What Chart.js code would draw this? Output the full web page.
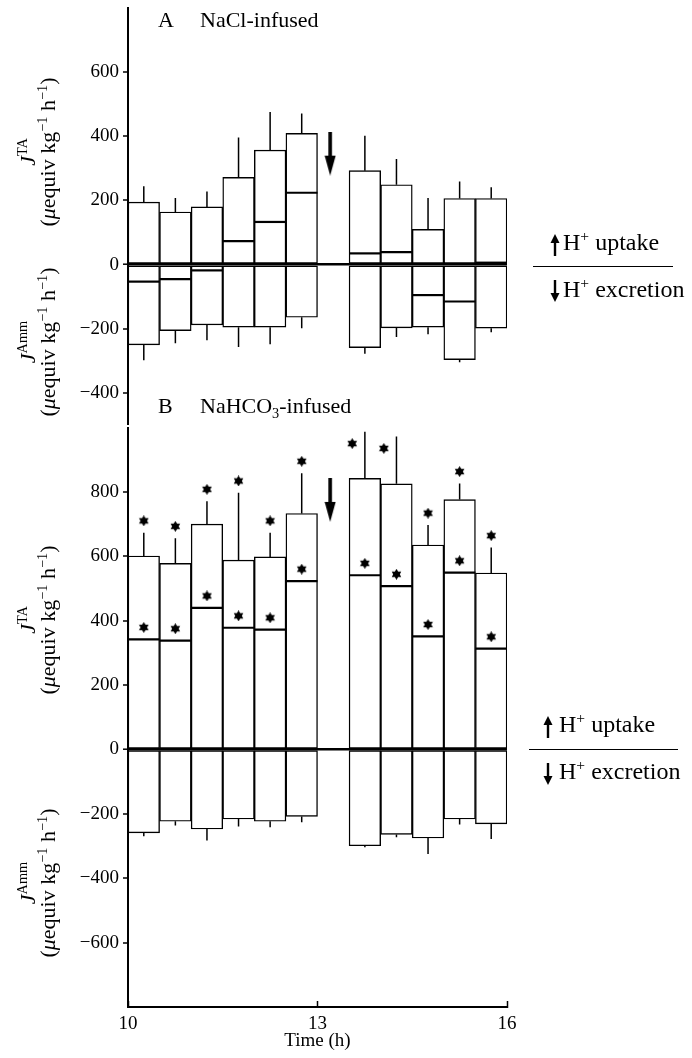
<!DOCTYPE html>
<html>
<head>
<meta charset="utf-8">
<script src="https://cdn.jsdelivr.net/npm/chart.js@4.4.1/dist/chart.umd.min.js"></script>
<style>
  body { margin: 0; background: #fff; }
  #wrap { position: relative; width: 692px; height: 1058px; font-family: "Liberation Serif", "DejaVu Serif", serif; color: #000; }
  canvas { position: absolute; left: 0; }
  .txt { position: absolute; white-space: nowrap; line-height: 22px; font-size: 22px; }
  .key { font-size: 24px; }
  .ytitle { position: absolute; white-space: nowrap; text-align: center; font-size: 22px; line-height: 20px;
            transform: translate(-50%, -50%) rotate(-90deg); }
  .ytitle i { font-style: italic; }
  .ytitle sup, .txt sup { font-size: 0.65em; line-height: 0; }
  .rule { position: absolute; height: 0; border-top: 1.5px solid #000; }
  svg.arr { position: absolute; }
</style>
</head>
<body>
<div id="wrap">
  <canvas id="chartA" width="692" height="432" style="top:0"></canvas>
  <canvas id="chartB" width="692" height="638" style="top:420px"></canvas>

  <div class="txt" style="left:158px; top:9px">A</div>
  <div class="txt" style="left:200px; top:9px">NaCl-infused</div>
  <div class="txt" style="left:158px; top:395px">B</div>
  <div class="txt" style="left:200px; top:395px">NaHCO<sub style="font-size:0.65em">3</sub>-infused</div>

  <div class="ytitle" style="left:38px; top:152px"><i>J</i><sup>TA</sup><br>(<i>μ</i>equiv kg<sup>−1</sup> h<sup>−1</sup>)</div>
  <div class="ytitle" style="left:38px; top:342px"><i>J</i><sup>Amm</sup><br>(<i>μ</i>equiv kg<sup>−1</sup> h<sup>−1</sup>)</div>
  <div class="ytitle" style="left:38px; top:620px"><i>J</i><sup>TA</sup><br>(<i>μ</i>equiv kg<sup>−1</sup> h<sup>−1</sup>)</div>
  <div class="ytitle" style="left:38px; top:883px"><i>J</i><sup>Amm</sup><br>(<i>μ</i>equiv kg<sup>−1</sup> h<sup>−1</sup>)</div>

  <!-- direction key, panel A -->
  <svg class="arr" width="10" height="22" style="left:550px; top:234px"><polygon points="5,0 9.5,9 0.5,9" fill="#000"/><rect x="3.8" y="8" width="2.4" height="14" fill="#000"/></svg>
  <div class="txt key" style="left:563px; top:231px">H<sup>+</sup> uptake</div>
  <div class="rule" style="left:533px; width:140px; top:266px"></div>
  <svg class="arr" width="10" height="22" style="left:550px; top:280px"><rect x="3.8" y="0" width="2.4" height="14" fill="#000"/><polygon points="0.5,13 9.5,13 5,22" fill="#000"/></svg>
  <div class="txt key" style="left:563px; top:278px">H<sup>+</sup> excretion</div>

  <!-- direction key, panel B -->
  <svg class="arr" width="10" height="22" style="left:543px; top:716px"><polygon points="5,0 9.5,9 0.5,9" fill="#000"/><rect x="3.8" y="8" width="2.4" height="14" fill="#000"/></svg>
  <div class="txt key" style="left:559px; top:713px">H<sup>+</sup> uptake</div>
  <div class="rule" style="left:529px; width:149px; top:749px"></div>
  <svg class="arr" width="10" height="22" style="left:543px; top:763px"><rect x="3.8" y="0" width="2.4" height="14" fill="#000"/><polygon points="0.5,13 9.5,13 5,22" fill="#000"/></svg>
  <div class="txt key" style="left:559px; top:760px">H<sup>+</sup> excretion</div>
</div>

<script>
// half-hour collection periods (start of each bin, h)
const binStart = [10, 10.5, 11, 11.5, 12, 12.5, 13.5, 14, 14.5, 15, 15.5];
const binWidth = 0.5;

// A: NaCl-infused  (µequiv kg-1 h-1)
const taA     = [195, 164, 180, 272, 357, 409, 293, 249, 110, 206, 206];
const taErrA  = [49, 44, 48, 124, 119, 62, 109, 80, 98, 53, 35];
const ammA    = [-250, -206, -188, -195, -195, -164, -259, -197, -195, -296, -198];
const ammErrA = [48, 39, 48, 62, 53, 34, 19, 29, 22, 8, 13];
const netA    = [-53, -45, -18, 73, 133, 224, 35, 39, -95, -115, 6];

// B: NaHCO3-infused
const taB     = [601, 578, 700, 588, 598, 733, 842, 825, 635, 776, 548];
const taErrB  = [72, 78, 71, 209, 75, 125, 145, 147, 62, 50, 79];
const ammB    = [-259, -223, -247, -216, -223, -208, -299, -264, -275, -216, -231];
const ammErrB = [11, 13, 36, 23, 19, 18, 5, 9, 50, 17, 47];
const netB    = [342, 338, 440, 378, 372, 523, 541, 507, 351, 549, 313];
// significant vs. NaCl group (J_TA and net flux)
const sigTaB  = [1, 1, 1, 1, 1, 1, 1, 1, 1, 1, 1];
const sigNetB = [1, 1, 1, 1, 1, 1, 1, 1, 1, 1, 1];

const yTicksA = [-400, -200, 0, 200, 400, 600];
const yTicksB = [-600, -400, -200, 0, 200, 400, 600, 800];
const xTicks  = [10, 13, 16];

// infusion switched here
const infusionAt = 13.2;
const arrowLevelA = 346;
const arrowLevelB = 775;

const centers = binStart.map(s => s + binWidth / 2);
const serif = 'Liberation Serif';

function starImage(size) {
  const c = document.createElement('canvas');
  c.width = c.height = size;
  const g = c.getContext('2d');
  const r = size / 2;
  g.beginPath();
  for (let i = 0; i < 12; i++) {
    const a = Math.PI / 6 * i - Math.PI / 2;
    const rr = i % 2 ? r * 0.6 : r;
    g.lineTo(r + rr * Math.cos(a), r + rr * Math.sin(a));
  }
  g.closePath();
  g.fillStyle = '#000';
  g.fill();
  return c;
}

function arrowImage() {
  const c = document.createElement('canvas');
  c.width = 12; c.height = 44;
  const g = c.getContext('2d');
  g.fillStyle = '#000';
  g.fillRect(4.2, 0, 3.6, 27);
  g.beginPath();
  g.moveTo(0.5, 24); g.lineTo(11.5, 24); g.lineTo(6, 44);
  g.closePath();
  g.fill();
  return c;
}

const starImg = starImage(11);
const arrowImg = arrowImage();

function halfBinPx(chart) {
  const x = chart.scales.x;
  return Math.abs(x.getPixelForValue(binStart[0] + binWidth) - x.getPixelForValue(binStart[0])) / 2;
}

function errorSegments(vals, errs, sign) {
  const pts = [];
  vals.forEach((v, i) => {
    pts.push({x: centers[i], y: v}, {x: centers[i], y: v + sign * errs[i]}, {x: centers[i], y: null});
  });
  return pts;
}

const barStyle = {
  type: 'bar',
  backgroundColor: '#fff',
  borderColor: '#000',
  borderWidth: 1.4,
  borderSkipped: false,
  barPercentage: 1,
  categoryPercentage: 1,
  grouped: false,
  order: 5
};

function panelDatasets(ta, taErr, amm, ammErr, net, arrowLevel) {
  return [
    Object.assign({data: centers.map((x, i) => ({x, y: [0, ta[i]]}))}, barStyle),
    Object.assign({data: centers.map((x, i) => ({x, y: [amm[i], 0]}))}, barStyle),
    {
      type: 'line', data: centers.map((x, i) => ({x, y: net[i]})),
      showLine: false, pointStyle: 'line',
      pointRadius: ctx => halfBinPx(ctx.chart),
      pointBorderWidth: 2.2, pointBorderColor: '#000', order: 2
    },
    {
      type: 'line', data: errorSegments(ta, taErr, 1).concat(errorSegments(amm, ammErr, -1)),
      borderColor: '#000', borderWidth: 1.5, pointRadius: 0, spanGaps: false, order: 3
    },
    {
      type: 'line', data: [{x: infusionAt, y: arrowLevel}],
      showLine: false, pointStyle: arrowImg, pointRadius: 6, order: 1
    }
  ];
}

function yScale(min, max, ticks) {
  return {
    min, max,
    afterBuildTicks: s => { s.ticks = ticks.map(v => ({value: v})); },
    afterFit: s => { s.width = 128; s.paddingTop = 0; s.paddingBottom = 0; },
    border: {display: true, color: '#000', width: 2},
    grid: {
      drawOnChartArea: true,
      color: ctx => (ctx.tick && ctx.tick.value === 0) ? '#000' : 'rgba(0,0,0,0)',
      lineWidth: ctx => (ctx.tick && ctx.tick.value === 0) ? 2.4 : 0,
      drawTicks: true, tickLength: 5, tickColor: '#000', tickWidth: 1.5
    },
    ticks: {
      color: '#000', padding: 4,
      font: {family: serif, size: 19},
      callback: v => v < 0 ? '\u2212' + Math.abs(v) : String(v)
    }
  };
}

function xScale(show) {
  return {
    type: 'linear', min: 10, max: 16, offset: false, display: show,
    afterBuildTicks: s => { s.ticks = xTicks.map(v => ({value: v})); },
    afterFit: s => { s.height = show ? 51 : 0; s.paddingLeft = 0; s.paddingRight = 0; },
    border: {display: true, color: '#000', width: 2},
    grid: {drawOnChartArea: false, offset: false, drawTicks: true, tickLength: -6, tickColor: '#000', tickWidth: 1.5},
    ticks: {color: '#000', padding: 12, maxRotation: 0, font: {family: serif, size: 19}},
    title: {display: true, text: 'Time (h)', color: '#000', font: {family: serif, size: 19}, padding: {top: 0, bottom: 6}}
  };
}

const common = {
  responsive: false,
  animation: false,
  devicePixelRatio: 1,
  events: [],
  plugins: {legend: {display: false}, tooltip: {enabled: false}}
};

// panel A
new Chart(document.getElementById('chartA'), {
  type: 'bar',
  data: {datasets: panelDatasets(taA, taErrA, ammA, ammErrA, netA, arrowLevelA)},
  options: Object.assign({}, common, {
    layout: {padding: {top: 8, right: 185, bottom: 1, left: 0}},
    scales: {x: xScale(false), y: yScale(-500, 800, yTicksA)}
  })
});

// panel B, with significance stars
const starGap = 37;
const starPts = [];
centers.forEach((x, i) => {
  if (sigTaB[i]) {
    const tip = taB[i] + taErrB[i];
    if (tip + starGap < 980) starPts.push({x, y: tip + starGap});
    else starPts.push({x: x - 0.2, y: tip - starGap});
  }
  if (sigNetB[i]) starPts.push({x, y: netB[i] + starGap});
});

const dsB = panelDatasets(taB, taErrB, ammB, ammErrB, netB, arrowLevelB);
dsB.push({type: 'line', data: starPts, showLine: false, pointStyle: starImg, pointRadius: 5, order: 0});

new Chart(document.getElementById('chartB'), {
  type: 'bar',
  data: {datasets: dsB},
  options: Object.assign({}, common, {
    layout: {padding: {top: 7.5, right: 185, bottom: 0, left: 0}},
    scales: {x: xScale(true), y: yScale(-800, 1000, yTicksB)}
  })
});
</script>
</body>
</html>
